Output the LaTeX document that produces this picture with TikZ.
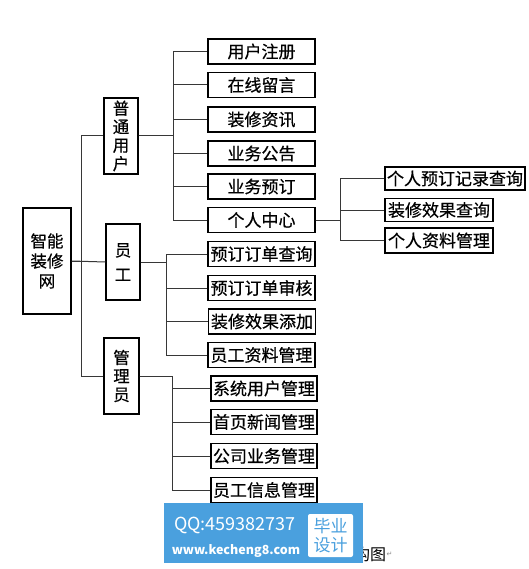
\documentclass[tikz,border=0pt]{standalone}
\usepackage{fontspec}
\usetikzlibrary{positioning}
\newfontfamily\cjk{Noto Sans CJK SC}
\newfontfamily\cjkb{Noto Sans CJK SC}[FakeBold=0.5]
\newfontfamily\symfont{DejaVu Sans}
\definecolor{MarkBlue}{RGB}{74,160,222}
\definecolor{LineGray}{RGB}{55,55,55}
\newcommand{\leaffont}{\cjkb\fontsize{17}{18}\selectfont}
\newcommand{\rolefont}{\cjkb\fontsize{16.5}{18.5}\selectfont}

\begin{document}
\begin{tikzpicture}[x=1pt, y=-1pt,
    font=\cjk,
    leaf/.style={draw=black, line width=1.2pt, fill=white, inner sep=0pt,
        minimum width=107pt, minimum height=25pt, font=\leaffont},
    role/.style={draw=black, line width=1.2pt, fill=white, inner sep=0pt,
        align=center, minimum width=34pt, minimum height=76pt, font=\rolefont},
    link/.style={draw=LineGray, line width=1pt}
]
\useasboundingbox[fill=white] (0,0) rectangle (528,569);

% root and the three roles
\node[role, minimum width=48pt, minimum height=106pt,
      font=\cjkb\fontsize{16.5}{20}\selectfont] (root) at (47,261) {智能\\装修\\网};
\node[role] (user)  at (121,136)   {普\\通\\用\\户};
\node[role] (staff) at (123,262)   {员\\[6pt]工};
\node[role, minimum width=35pt] (admin) at (121.5,376) {管\\理\\员};

% ordinary user
\node[leaf] (u1) at (261.5,51.5)  {用户注册};
\node[leaf] (u2) at (261.5,85)    {在线留言};
\node[leaf] (u3) at (261.5,119.5) {装修资讯};
\node[leaf] (u4) at (261.5,153.5) {业务公告};
\node[leaf] (u5) at (261.5,186.5) {业务预订};
\node[leaf] (u6) at (261.5,220)   {个人中心};

% personal centre
\node[leaf, minimum width=140pt, minimum height=23pt] (p1) at (455,178.5) {个人预订记录查询};
\node[leaf, minimum width=108pt, minimum height=23pt] (p2) at (439,210)   {装修效果查询};
\node[leaf, minimum width=108pt] (p3) at (439,240.5) {个人资料管理};

% staff
\node[leaf] (s1) at (261.5,254)   {预订订单查询};
\node[leaf] (s2) at (261.5,288)   {预订订单审核};
\node[leaf] (s3) at (262,321.5)   {装修效果添加};
\node[leaf] (s4) at (261.5,355)   {员工资料管理};

% admin
\node[leaf, minimum width=106pt] (a1) at (264,388.5) {系统用户管理};
\node[leaf, minimum width=106pt] (a2) at (264,422)   {首页新闻管理};
\node[leaf, minimum width=106pt] (a3) at (264,456)   {公司业务管理};
\node[leaf, minimum width=106pt] (a4) at (264,490)   {员工信息管理};

% connectors
\draw[link] (root.east) -- (staff.west);
\draw[link] (root.east) -- ++(10,0) |- (user.west);
\draw[link] (root.east) -- ++(10,0) |- (admin.west);
\foreach \i in {1,...,6}
    \draw[link] (user.east) -- ++(35,0) |- (u\i.west);
\foreach \i in {1,...,3}
    \draw[link] (u6.east) -- ++(25,0) |- (p\i.west);
\foreach \i in {1,...,4}
    \draw[link] (staff.east) -- ++(26,0) |- (s\i.west);
\foreach \i in {1,...,4}
    \draw[link] (admin.east) -- ++(33,0) |- (a\i.west);

% caption, partly covered
\node[anchor=west, inner sep=0pt, font=\cjk\fontsize{16}{16}\selectfont] (cap) at (354,554) {构图};
\node[anchor=west, inner sep=0pt, text=black!45, font=\symfont\fontsize{7}{7}\selectfont] (ret) at (cap.east) {↵};

% watermark
\node[fill=MarkBlue, inner sep=0pt, minimum width=199pt, minimum height=60pt] (mark) at (263.5,533) {};
\node[text=white, inner sep=0pt, font=\cjk\fontsize{18}{18}\selectfont] (qq) at (235,525) {QQ:459382737};
\node[text=white, inner sep=0pt, font=\cjk\bfseries\fontsize{12.5}{12.5}\selectfont] (web) at (236,551) {www.kecheng8.com};
\node[fill=white, rounded corners=2pt, inner sep=0pt, minimum width=45pt, minimum height=43pt,
      align=center, text=MarkBlue, font=\cjk\fontsize{17}{19}\selectfont] (tag) at (330.5,535.5) {毕业\\设计};
\end{tikzpicture}
\end{document}
